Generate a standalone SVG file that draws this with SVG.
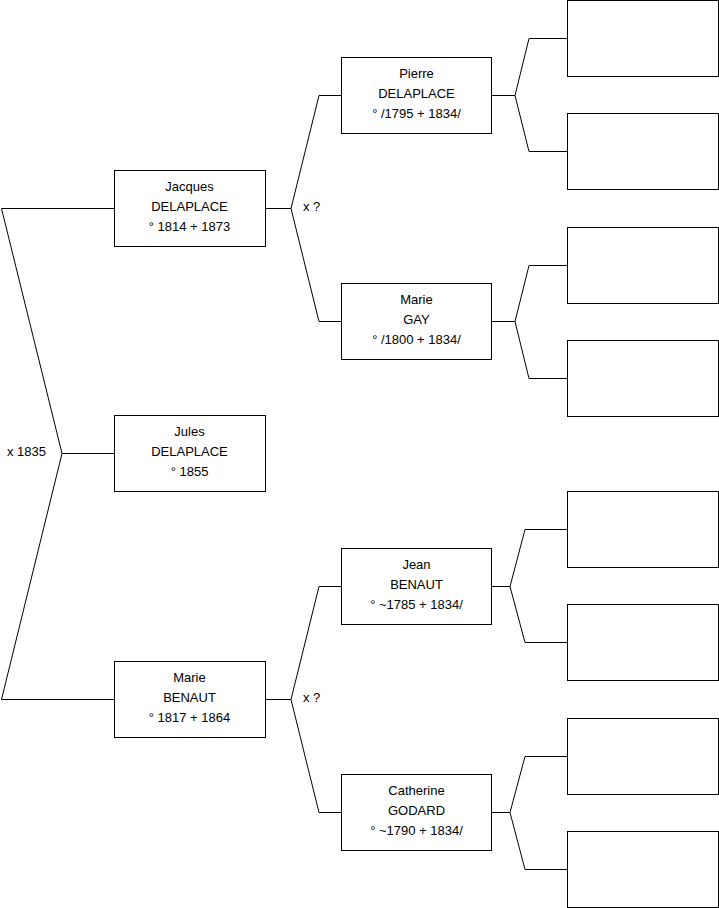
<svg xmlns="http://www.w3.org/2000/svg" width="719" height="908" viewBox="0 0 719 908">
<style>
.b{fill:#fff;stroke:#000;stroke-width:1}
.c{fill:none;stroke:#000;stroke-width:1}
text{font-family:"Liberation Sans",Arial,sans-serif;font-size:13px;fill:#000}
.m{text-anchor:middle}
</style>
<rect width="719" height="908" fill="#fff"/>
<g id="connectors">
<path class="c" d="M114.5,208.5 H1.5 L62,453.5 L1.5,699.5 H114.5 M62,453.5 H114.5"/>
<path class="c" d="M265.5,208.5 H291 L319,95.5 H341.5 M291,208.5 L319,321.5 H341.5"/>
<path class="c" d="M265.5,699.5 H291 L319,586.5 H341.5 M291,699.5 L319,812.5 H341.5"/>
<path class="c" d="M491.5,95.5 H515 L529,38.5 H567.5 M515,95.5 L529,151.5 H567.5"/>
<path class="c" d="M491.5,321.5 H515 L529,265.5 H567.5 M515,321.5 L529,378.5 H567.5"/>
<path class="c" d="M491.5,586.5 H510 L525,529.5 H567.5 M510,586.5 L525,642.5 H567.5"/>
<path class="c" d="M491.5,812.5 H510 L525,756.5 H567.5 M510,812.5 L525,869.5 H567.5"/>
<text x="7" y="456">x 1835</text>
<text x="303" y="211">x ?</text>
<text x="303" y="702">x ?</text>
</g>
<g id="jacques"><rect class="b" x="114.5" y="170.5" width="151" height="76"/>
<text class="m" x="189.5" y="190.5">Jacques</text><text class="m" x="189.5" y="210.5">DELAPLACE</text><text class="m" x="189.5" y="230.5">° 1814 + 1873</text></g>
<g id="jules"><rect class="b" x="114.5" y="415.5" width="151" height="76"/>
<text class="m" x="189.5" y="435.5">Jules</text><text class="m" x="189.5" y="455.5">DELAPLACE</text><text class="m" x="189.5" y="475.5">° 1855</text></g>
<g id="marie-benaut"><rect class="b" x="114.5" y="661.5" width="151" height="76"/>
<text class="m" x="189.5" y="681.5">Marie</text><text class="m" x="189.5" y="701.5">BENAUT</text><text class="m" x="189.5" y="721.5">° 1817 + 1864</text></g>
<g id="pierre"><rect class="b" x="341.5" y="57.5" width="150" height="76"/>
<text class="m" x="416.5" y="77.5">Pierre</text><text class="m" x="416.5" y="97.5">DELAPLACE</text><text class="m" x="416.5" y="117.5">° /1795 + 1834/</text></g>
<g id="marie-gay"><rect class="b" x="341.5" y="283.5" width="150" height="76"/>
<text class="m" x="416.5" y="303.5">Marie</text><text class="m" x="416.5" y="323.5">GAY</text><text class="m" x="416.5" y="343.5">° /1800 + 1834/</text></g>
<g id="jean"><rect class="b" x="341.5" y="548.5" width="150" height="76"/>
<text class="m" x="416.5" y="568.5">Jean</text><text class="m" x="416.5" y="588.5">BENAUT</text><text class="m" x="416.5" y="608.5">° ~1785 + 1834/</text></g>
<g id="catherine"><rect class="b" x="341.5" y="774.5" width="150" height="76"/>
<text class="m" x="416.5" y="794.5">Catherine</text><text class="m" x="416.5" y="814.5">GODARD</text><text class="m" x="416.5" y="834.5">° ~1790 + 1834/</text></g>
<g id="g3-1"><rect class="b" x="567.5" y="0.5" width="151" height="76"/></g>
<g id="g3-2"><rect class="b" x="567.5" y="113.5" width="151" height="76"/></g>
<g id="g3-3"><rect class="b" x="567.5" y="227.5" width="151" height="76"/></g>
<g id="g3-4"><rect class="b" x="567.5" y="340.5" width="151" height="76"/></g>
<g id="g3-5"><rect class="b" x="567.5" y="491.5" width="151" height="76"/></g>
<g id="g3-6"><rect class="b" x="567.5" y="604.5" width="151" height="76"/></g>
<g id="g3-7"><rect class="b" x="567.5" y="718.5" width="151" height="76"/></g>
<g id="g3-8"><rect class="b" x="567.5" y="831.5" width="151" height="76"/></g>
</svg>
